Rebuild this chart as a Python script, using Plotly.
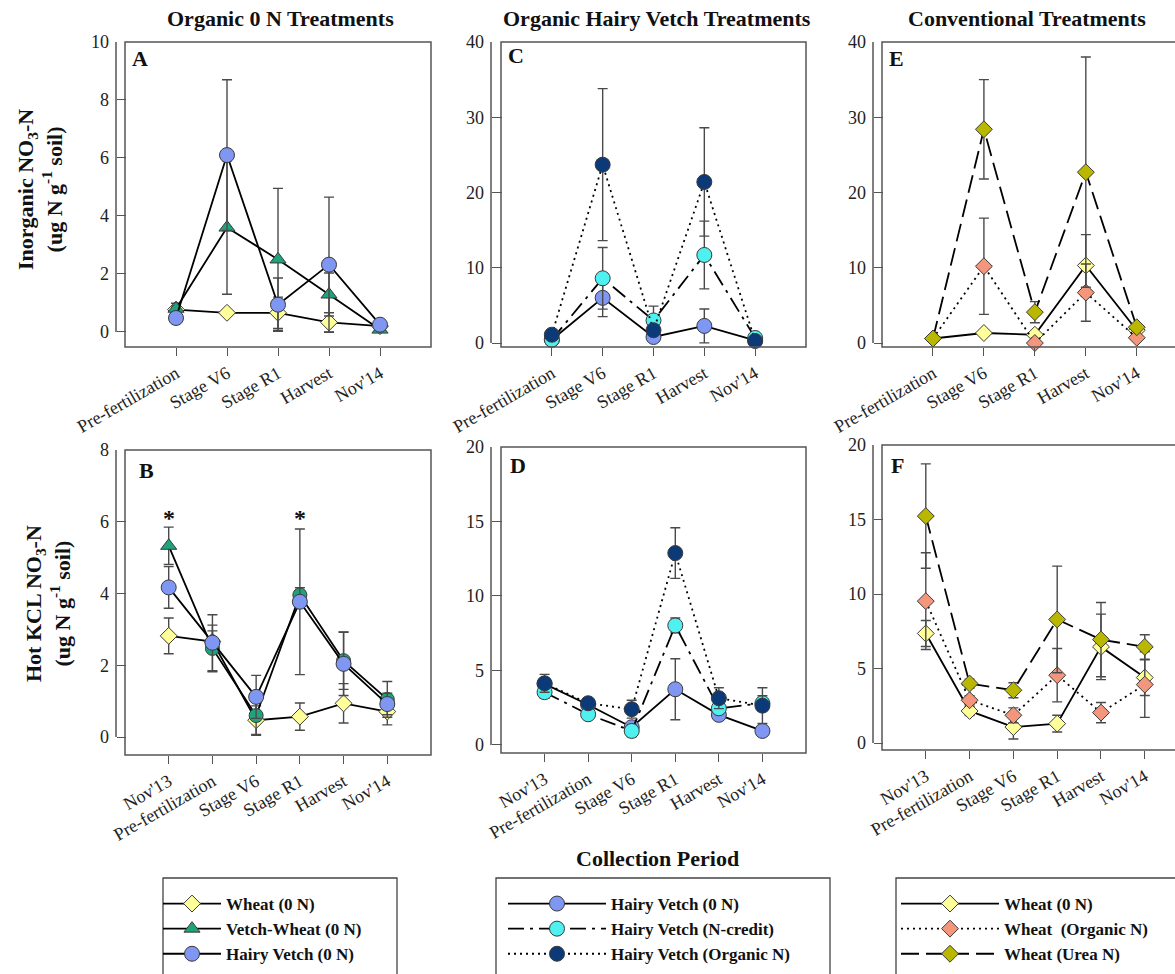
import plotly.graph_objects as go

W, H = 1175, 974

# ---------------- data ----------------
top_periods = ["Pre-fertilization", "Stage V6", "Stage R1", "Harvest", "Nov'14"]
bot_periods = ["Nov'13", "Pre-fertilization", "Stage V6", "Stage R1", "Harvest", "Nov'14"]

# Panel A: Inorganic NO3-N, organic 0 N treatments
A_wheat = [0.77, 0.66, 0.66, 0.33, 0.20]
A_wheat_err = [0.22, 0.05, 0.54, 0.33, 0.05]
A_vw = [0.80, 3.60, 2.50, 1.29, 0.08]
A_vw_err = [0.10, 2.30, 2.45, 0.74, 0.05]
A_hv = [0.48, 6.10, 0.94, 2.32, 0.25]
A_hv_err = [0.10, 2.60, 0.92, 2.33, 0.05]

# Panel C: Inorganic NO3-N, organic hairy vetch treatments
C_hv0 = [0.44, 6.0, 0.80, 2.27, 0.35]
C_hv0_err = [0.2, 2.5, 0.4, 2.25, 0.1]
C_ncr = [0.45, 8.6, 3.0, 11.7, 0.67]
C_ncr_err = [0.2, 4.1, 1.9, 4.5, 0.3]
C_org = [1.1, 23.7, 1.7, 21.4, 0.27]
C_org_err = [0.3, 10.1, 0.6, 7.2, 0.1]

# Panel E: Inorganic NO3-N, conventional treatments
E_w0 = [0.6, 1.33, 1.1, 10.3, 1.7]
E_w0_err = [0.1, 0.3, 0.3, 4.1, 0.3]
E_org = [0.6, 10.2, 0.0, 6.7, 0.7]
E_org_err = [0.1, 6.4, 0.2, 3.8, 0.3]
E_urea = [0.6, 28.4, 4.1, 22.7, 2.1]
E_urea_err = [0.1, 6.6, 1.4, 15.3, 0.4]

# Panel B: Hot KCL NO3-N, organic 0 N treatments
B_wheat = [2.82, 2.66, 0.47, 0.57, 0.94, 0.71]
B_wheat_err = [0.50, 0.30, 0.40, 0.38, 0.55, 0.37]
B_vw = [5.33, 2.47, 0.60, 3.96, 2.13, 1.05]
B_vw_err = [0.52, 0.65, 0.55, 0.20, 0.80, 0.50]
B_hv = [4.17, 2.63, 1.12, 3.77, 2.04, 0.92]
B_hv_err = [0.58, 0.78, 0.60, 2.03, 0.88, 0.30]

# Panel D: Hot KCL NO3-N, organic hairy vetch treatments
D_hv0 = [4.10, 2.70, 1.19, 3.74, 2.02, 0.94]
D_hv0_err = [0.3, 0.3, 0.3, 2.05, 0.2, 0.1]
D_ncr = [3.54, 2.06, 0.94, 8.02, 2.46, 2.80]
D_ncr_err = [0.4, 0.2, 0.4, 0.5, 0.3, 0.5]
D_org = [4.14, 2.80, 2.40, 12.88, 3.14, 2.64]
D_org_err = [0.6, 0.2, 0.6, 1.7, 0.7, 1.2]

# Panel F: Hot KCL NO3-N, conventional treatments
F_w0 = [7.35, 2.15, 1.07, 1.30, 6.45, 4.39]
F_w0_err = [0.87, 0.3, 0.8, 0.56, 2.2, 1.2]
F_org = [9.52, 2.87, 1.86, 4.55, 2.04, 3.92]
F_org_err = [3.25, 0.3, 0.5, 1.79, 0.68, 2.2]
F_urea = [15.23, 3.99, 3.54, 8.29, 6.94, 6.45]
F_urea_err = [3.5, 0.3, 0.5, 3.58, 2.49, 0.82]

# significance markers (panel B)
B_sig_periods = ["Nov'13", "Stage R1"]

# ---------------- styles ----------------
SERIF = "Liberation Serif"
C_WHEAT = "#FFFF99"
C_VW = "#1FA37C"
C_HV = "#7F96F2"
C_NCR = "#4FF0F0"
C_ORG = "#0C3A78"
C_SALMON = "#F4967C"
C_OLIVE = "#BAB700"
EDGE = "#3a3a3a"
ERRC = "#4a4a4a"

DOT = "2px,4px"
DASHDOT = "16px,6px,3px,6px"
LONGDASH = "18px,7px"

fig = go.Figure()


def add(xcats, y, err, name, color, symbol, size, dash, axis, legend, show):
    fig.add_trace(go.Scatter(
        x=xcats, y=y, name=name, mode="lines+markers",
        xaxis="x" + axis, yaxis="y" + axis,
        line=dict(color="black", width=1.8, dash=dash),
        marker=dict(symbol=symbol, size=size, color=color,
                    line=dict(color=EDGE, width=1)),
        error_y=dict(type="data", array=err, visible=True, color=ERRC,
                     thickness=1.4, width=5),
        legend=legend, showlegend=show, cliponaxis=False,
    ))


# Panel A (axis 1)
add(top_periods, A_wheat, A_wheat_err, "Wheat (0 N)", C_WHEAT, "diamond", 13, "solid", "", "legend", True)
add(top_periods, A_vw, A_vw_err, "Vetch-Wheat (0 N)", C_VW, "triangle-up", 14, "solid", "", "legend", True)
add(top_periods, A_hv, A_hv_err, "Hairy Vetch (0 N)", C_HV, "circle", 15, "solid", "", "legend", True)
# Panel C (axis 2)
add(top_periods, C_hv0, C_hv0_err, "Hairy Vetch (0 N)", C_HV, "circle", 15, "solid", "2", "legend2", True)
add(top_periods, C_ncr, C_ncr_err, "Hairy Vetch (N-credit)", C_NCR, "circle", 15, DASHDOT, "2", "legend2", True)
add(top_periods, C_org, C_org_err, "Hairy Vetch (Organic N)", C_ORG, "circle", 15, DOT, "2", "legend2", True)
# Panel E (axis 3)
add(top_periods, E_w0, E_w0_err, "Wheat (0 N)", C_WHEAT, "diamond", 13, "solid", "3", "legend3", True)
add(top_periods, E_org, E_org_err, "Wheat\u00a0\u00a0(Organic N)", C_SALMON, "diamond", 13, DOT, "3", "legend3", True)
add(top_periods, E_urea, E_urea_err, "Wheat (Urea N)", C_OLIVE, "diamond", 13, LONGDASH, "3", "legend3", True)
# Panel B (axis 4)
add(bot_periods, B_wheat, B_wheat_err, "Wheat (0 N)", C_WHEAT, "diamond", 13, "solid", "4", "legend", False)
add(bot_periods, B_vw, B_vw_err, "Vetch-Wheat (0 N)", C_VW,
    ["triangle-up", "circle", "circle", "circle", "circle", "circle"], 14, "solid", "4", "legend", False)
add(bot_periods, B_hv, B_hv_err, "Hairy Vetch (0 N)", C_HV, "circle", 15, "solid", "4", "legend", False)
# Panel D (axis 5)
add(bot_periods, D_hv0, D_hv0_err, "Hairy Vetch (0 N)", C_HV, "circle", 15, "solid", "5", "legend2", False)
add(bot_periods, D_ncr, D_ncr_err, "Hairy Vetch (N-credit)", C_NCR, "circle", 15, DASHDOT, "5", "legend2", False)
add(bot_periods, D_org, D_org_err, "Hairy Vetch (Organic N)", C_ORG, "circle", 15, DOT, "5", "legend2", False)
# Panel F (axis 6)
add(bot_periods, F_w0, F_w0_err, "Wheat (0 N)", C_WHEAT, "diamond", 13, "solid", "6", "legend3", False)
add(bot_periods, F_org, F_org_err, "Wheat (Organic N)", C_SALMON, "diamond", 13, DOT, "6", "legend3", False)
add(bot_periods, F_urea, F_urea_err, "Wheat (Urea N)", C_OLIVE, "diamond", 13, LONGDASH, "6", "legend3", False)

# ---------------- layout ----------------
# panel geometry in pixels: (left, right, top, bottom, y-axis line px, xrange, yrange, dtick)
panels = {
    "":  (125, 431, 42, 347, 116, [-1, 5], [-0.52, 10], 2),
    "2": (501, 806, 42, 347, 491, [-1, 5], [-0.53, 40], 10),
    "3": (882, 1175, 42, 347, 873, [-1, 4.75], [-0.53, 40], 10),
    "4": (125, 431, 450, 755, 116, [-1, 6], [-0.50, 8], 2),
    "5": (501, 806, 447, 753, 491, [-1, 6], [-0.54, 20], 5),
    "6": (882, 1175, 445, 750, 873, [-1, 5.69], [-0.47, 20], 5),
}
FRAME = "#555555"
tickfont = dict(family=SERIF, size=18, color="#222222")
shapes = []
layout_axes = {}
for k, (l, r, t, b, ax_px, xr, yr, dt) in panels.items():
    layout_axes["xaxis" + k] = dict(
        domain=[l / W, r / W], range=xr, anchor="y" + k, type="category",
        showgrid=False, zeroline=False, showline=False, automargin=False,
        ticks="outside", ticklen=8, tickwidth=1.3, tickcolor=FRAME,
        tickangle=-30, tickfont=tickfont,
    )
    layout_axes["yaxis" + k] = dict(
        domain=[1 - b / H, 1 - t / H], range=yr, anchor="free",
        position=ax_px / W, dtick=dt, tick0=0, automargin=False,
        showgrid=False, zeroline=False, showline=False,
        ticks="inside", ticklen=l - ax_px, tickwidth=1.3, tickcolor=FRAME,
        tickfont=tickfont, ticklabelstandoff=7,
    )
    # frame
    shapes.append(dict(type="rect", xref="paper", yref="paper",
                       x0=l / W, x1=(r if r < W else W + 20) / W,
                       y0=1 - b / H, y1=1 - t / H,
                       line=dict(color=FRAME, width=1.5)))
    # offset y-axis line from 0 to max
    shapes.append(dict(type="line", xref="paper", yref="y" + k,
                       x0=ax_px / W, x1=ax_px / W, y0=0, y1=yr[1],
                       line=dict(color=FRAME, width=1.5)))

# legend boxes
for (x0, x1) in [(163, 397), (496, 830), (896, 1190)]:
    shapes.append(dict(type="rect", xref="paper", yref="paper",
                       x0=x0 / W, x1=x1 / W, y0=1 - 1000 / H, y1=1 - 878 / H,
                       line=dict(color="#444444", width=1.3)))

bold = dict(family=SERIF, color="#111111", weight="bold")
annotations = []


def ann(text, x, y, size, xanchor="center", angle=0, yanchor="middle"):
    annotations.append(dict(text=text, x=x / W, y=1 - y / H, xref="paper", yref="paper",
                            showarrow=False, xanchor=xanchor, yanchor=yanchor,
                            textangle=angle, font=dict(size=size, **bold)))


ann("Organic 0 N Treatments", 280, 19, 22)
ann("Organic Hairy Vetch Treatments", 657, 19, 22)
ann("Conventional Treatments", 1027, 19, 22)
ann("Inorganic NO<sub>3</sub>-N<br>(ug N g<sup>-1</sup> soil)", 40, 190, 22, angle=-90)
ann("Hot KCL NO<sub>3</sub>-N<br>(ug N g<sup>-1</sup> soil)", 48, 604, 22, angle=-90)
ann("Collection Period", 657, 858, 22)
for letter, x, y in [("A", 130, 58), ("C", 506, 56), ("E", 887, 58),
                     ("B", 137, 470), ("D", 508, 465), ("F", 889, 465)]:
    ann(letter, x, y, 22, xanchor="left")

# significance asterisks in panel B
for cat in B_sig_periods:
    annotations.append(dict(text="*", x=cat, y=5.7, xref="x4", yref="y4",
                            showarrow=False, yanchor="bottom",
                            font=dict(size=24, **bold)))

legfont = dict(family=SERIF, size=17, color="#111111", weight="bold")
common_leg = dict(xanchor="left", yanchor="middle", bgcolor="rgba(0,0,0,0)",
                  borderwidth=0, font=legfont, tracegroupgap=0)

fig.update_layout(
    template="none",
    width=W, height=H, margin=dict(l=0, r=0, t=0, b=0, autoexpand=False),
    paper_bgcolor="white", plot_bgcolor="white",
    shapes=shapes, annotations=annotations,
    legend=dict(x=158 / W, y=1 - 929 / H, itemwidth=58, **common_leg),
    legend2=dict(x=503 / W, y=1 - 929 / H, itemwidth=98, **common_leg),
    legend3=dict(x=896 / W, y=1 - 929 / H, itemwidth=98, **common_leg),
    **layout_axes,
)

fig.write_html("out.html")
